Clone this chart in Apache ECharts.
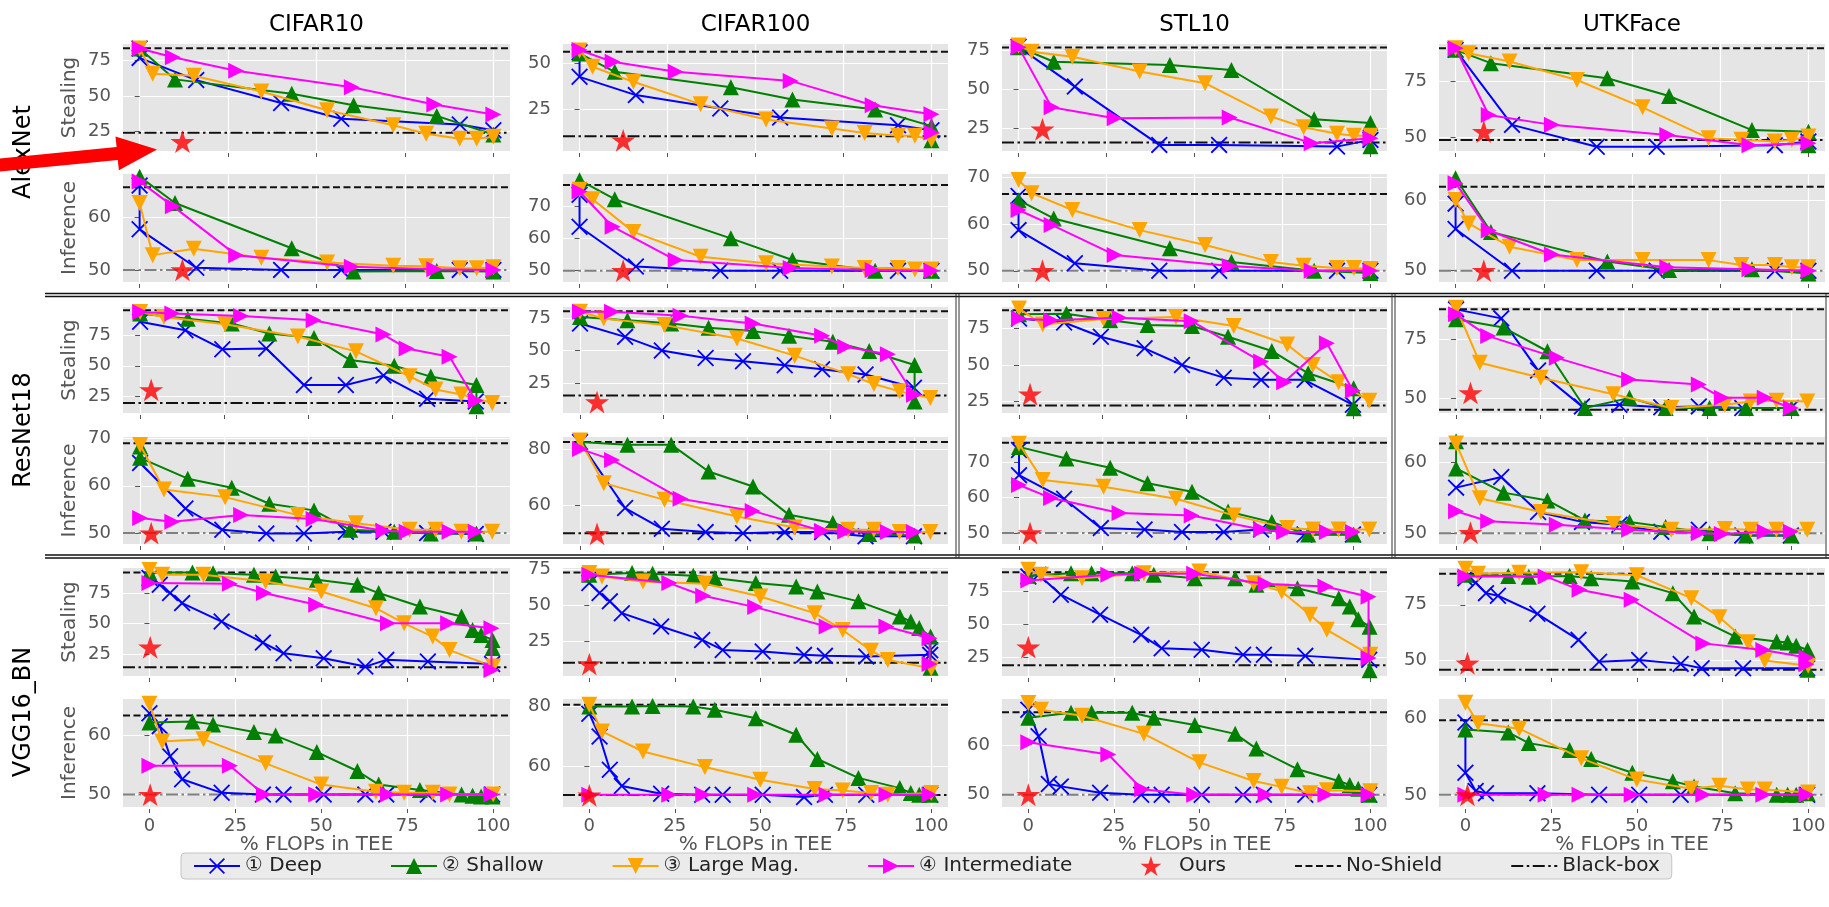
<!DOCTYPE html>
<html><head><meta charset="utf-8">
<script src="https://cdn.jsdelivr.net/npm/echarts@6/dist/echarts.min.js"></script>
<style>html,body{margin:0;padding:0;background:#fff}#chart{width:1829px;height:907px}</style>
</head><body><div id="chart"></div>
<script>
// ---------------- DATA ----------------
const datasetTitles = ['CIFAR10', 'CIFAR100', 'STL10', 'UTKFace'];
const modelLabels = ['AlexNet', 'ResNet18', 'VGG16_BN'];
const taskLabels = ['Stealing', 'Inference'];
const seriesNames = ['① Deep', '② Shallow', '③ Large Mag.', '④ Intermediate'];
const xTickValues = [0, 25, 50, 75, 100];
const xLimits = [[-4.7, 104.7], [-5.1, 110.2], [-7.7, 104.9]];

// AlexNet - Stealing
const alexSteal_CIFAR10_deep = [[0,83],[0,76.5],[16,61],[40,45],[57,34],[90.5,30],[100,26]];
const alexSteal_CIFAR10_shallow = [[0,83],[10,61.5],[43,51.5],[60.5,43.5],[84,36],[100,23]];
const alexSteal_CIFAR10_large = [[0,83],[3.7,65.5],[15.3,64],[34.4,53],[53,40],[71.7,29.5],[81,23.5],[90.5,20],[95.3,20],[100,21.5]];
const alexSteal_CIFAR10_inter = [[0,83],[9.4,77],[27.3,67.5],[60,56],[83.3,44],[100,37]];
const alexSteal_CIFAR100_deep = [[0,56],[0,42.7],[16,32.8],[40,25.5],[57,20.6],[90.5,16.5],[100,13.8]];
const alexSteal_CIFAR100_shallow = [[0,55.4],[10,45.4],[43,37],[60.5,30.4],[84,25],[100,16],[100,8.3]];
const alexSteal_CIFAR100_large = [[0,57],[3.7,48.2],[15.3,40],[34.4,27.9],[53,19.6],[71.7,14.7],[81,12.3],[90.5,10.8],[95.3,10.8],[100,8.5]];
const alexSteal_CIFAR100_inter = [[0,57.2],[9.4,50.9],[27.3,45.4],[60,40.5],[83.3,27.3],[100,22.4],[100,12.5]];
const alexSteal_STL10_deep = [[0,77],[16,51.6],[40,14.4],[57,14.4],[90.5,13.3],[100,17.6]];
const alexSteal_STL10_shallow = [[0,76.8],[10,67.5],[43,65.4],[60.5,62.2],[84,30.8],[100,28.3],[100,13.5]];
const alexSteal_STL10_large = [[0,77.8],[3.7,73.9],[15.3,70.7],[34.4,61.2],[53,53.8],[71.7,32.5],[81,25.7],[90.5,21.5],[95.3,20.2],[100,20.2]];
const alexSteal_STL10_inter = [[0,76.8],[9.4,38.4],[27.3,31.4],[60,31.9],[83.3,15.5],[100,18.7]];
const alexSteal_UTKFace_deep = [[0,88.8],[16,55.5],[40,45.8],[57,45.8],[90.5,46.5],[100,48.1]];
const alexSteal_UTKFace_shallow = [[0,88.8],[10,82.9],[43,76.2],[60.5,68.3],[84,53.2],[100,52.5],[100,46.5]];
const alexSteal_UTKFace_large = [[0,89.5],[3.7,87.3],[15.3,83.6],[34.4,75.4],[53,63.3],[71.7,49.6],[81,48.9],[90.5,48.1],[95.3,48.9],[100,50.3]];
const alexSteal_UTKFace_inter = [[0,89.5],[9.4,59.9],[27.3,55.5],[60,51],[83.3,46.5],[100,47.3]];

// AlexNet - Inference
const alexInfer_CIFAR10_deep = [[0,66],[0,57.7],[16,50.4],[40,50],[57,50],[90.5,50],[100,50]];
const alexInfer_CIFAR10_shallow = [[0,67.7],[10,62.7],[43,54.1],[60.5,49.7],[84,49.8],[100,49.7]];
const alexInfer_CIFAR10_large = [[0,62.7],[3.7,52.8],[15.3,54],[34.4,52.3],[53,51.4],[71.7,50.8],[81,50.7],[90.5,50.3],[95.3,50.3],[100,50.5]];
const alexInfer_CIFAR10_inter = [[0,66.8],[9.4,62.1],[27.3,52.8],[60,50.6],[83.3,50.1],[100,50]];
const alexInfer_CIFAR100_deep = [[0,73.5],[0,63.6],[16,51.3],[40,50],[57,50],[90.5,50],[100,50]];
const alexInfer_CIFAR100_shallow = [[0,78],[10,72.1],[43,60],[60.5,53.3],[84,50],[100,50]];
const alexInfer_CIFAR100_large = [[0,75],[3.7,72.1],[15.3,62],[34.4,54.3],[53,52.3],[71.7,51.3],[81,50.8],[90.5,50.8],[95.3,50.4],[100,50.4]];
const alexInfer_CIFAR100_inter = [[0,74.5],[9.4,63.6],[27.3,53.3],[60,50.8],[83.3,50.2],[100,50]];
const alexInfer_STL10_deep = [[0,66],[0,58.7],[16,51.6],[40,50],[57,50],[90.5,50],[100,50]];
const alexInfer_STL10_shallow = [[0,65.1],[10,61.2],[43,54.8],[60.5,51.9],[84,50],[100,49.5]];
const alexInfer_STL10_large = [[0,69.4],[3.7,66.6],[15.3,63],[34.4,58.7],[53,55.5],[71.7,51.9],[81,51.1],[90.5,50.6],[95.3,50.6],[100,50.4]];
const alexInfer_STL10_inter = [[0,63],[9.4,59.8],[27.3,53.4],[60,51],[83.3,50],[100,50]];
const alexInfer_UTKFace_deep = [[0,59.5],[0,55.9],[16,50],[40,50],[57,50],[90.5,50],[100,50]];
const alexInfer_UTKFace_shallow = [[0,63.1],[10,55.5],[43,51.3],[60.5,50.1],[84,50.2],[100,49.6]];
const alexInfer_UTKFace_large = [[0,60],[3.7,56.7],[15.3,53.4],[34.4,51.5],[53,51.5],[71.7,51.5],[81,50.8],[90.5,50.8],[95.3,50.5],[100,50.5]];
const alexInfer_UTKFace_inter = [[0,62.4],[9.4,55.7],[27.3,52.3],[60,50.5],[83.3,50.2],[100,50]];

// ResNet18 - Stealing
const resSteal_CIFAR10_deep = [[0,86],[13.5,79],[24.5,63.6],[37.6,64.2],[48.8,34.4],[61.3,34.4],[72.5,42],[85.5,23.1],[100,20.9]];
const resSteal_CIFAR10_shallow = [[0,92.6],[14.2,88.5],[27.3,84.5],[38.5,76.4],[51.8,72.8],[62.6,54.7],[75.7,50.1],[86.6,41.2],[100.2,34.4],[100.2,17]];
const resSteal_CIFAR10_large = [[0,93.9],[7.1,89.9],[25.3,84],[47,74],[64.3,61.8],[80.3,41.5],[88,30.7],[95.7,26.6],[104.9,19.6]];
const resSteal_CIFAR10_inter = [[0,93.9],[9.6,92.6],[30.1,90.7],[51.7,87.2],[72.5,75.5],[79.4,64.2],[92.2,57.4],[100,21.5]];
const resSteal_CIFAR100_deep = [[0,70.7],[13.5,60.5],[24.5,50.1],[37.6,44.3],[48.8,41.8],[61.3,38.7],[72.5,35.7],[85.5,31.6],[100,21.4]];
const resSteal_CIFAR100_shallow = [[0,75.8],[14.2,73.2],[27.3,70.7],[38.5,67.4],[51.8,64.9],[62.6,61.3],[75.7,56.8],[86.6,49.7],[100.2,38.9],[100.2,11]];
const resSteal_CIFAR100_large = [[0,79.7],[7.1,74.6],[25.3,69.5],[47,59.3],[64.3,46.1],[80.3,31.9],[88,24.3],[95.7,18.7],[104.9,13.6]];
const resSteal_CIFAR100_inter = [[0,79.7],[9.6,79.7],[30.1,76.6],[51.7,70.7],[72.5,61.3],[79.4,52.9],[92.2,47.1],[100,16.1]];
const resSteal_STL10_deep = [[0,81.8],[13.5,79.1],[24.5,69.3],[37.6,61.4],[48.8,50],[61.3,41.3],[72.5,39.8],[85.5,39.8],[100,22.7]];
const resSteal_STL10_shallow = [[0,84.7],[14.2,85.1],[27.3,80.6],[38.5,77.4],[51.8,76.7],[62.6,69.3],[75.7,59.6],[86.6,44.3],[100.2,34.1],[100.2,20.4]];
const resSteal_STL10_large = [[0,88.6],[7.1,77.7],[25.3,81.4],[47,82.9],[64.3,76.7],[80.3,64],[88,50],[95.7,38.2],[104.9,25.5]];
const resSteal_STL10_inter = [[0,81.8],[9.6,80.7],[30.1,82.3],[51.7,80],[72.5,52.3],[79.4,38.2],[92.2,64.8],[100,32.3]];
const resSteal_UTKFace_deep = [[0,87.7],[13.5,83.9],[24.5,61.9],[37.6,46.7],[48.8,47.4],[61.3,46.3],[72.5,46.7],[85.5,46],[100,46]];
const resSteal_UTKFace_shallow = [[0,83.5],[14.2,80],[27.3,70],[38.5,46],[51.8,50.3],[62.6,46],[75.7,46],[86.6,46],[100.2,46]];
const resSteal_UTKFace_large = [[0,88.4],[7.1,65.1],[25.3,58.8],[47,51.8],[64.3,46],[80.3,47.4],[88,48.8],[95.7,49.1],[104.9,48.8]];
const resSteal_UTKFace_inter = [[0,85.6],[9.6,76.4],[30.1,67.2],[51.7,58.1],[72.5,55.9],[79.4,50.3],[92.2,50.3],[100,46]];

// ResNet18 - Inference
const resInfer_CIFAR10_deep = [[0,64.8],[13.5,55.2],[24.5,50.7],[37.6,49.9],[48.8,49.9],[61.3,50.3],[72.5,50.3],[85.5,50],[100,49.8]];
const resInfer_CIFAR10_shallow = [[0,68.3],[0,65.9],[14.2,61.5],[27.3,59.6],[38.5,56.2],[51.8,54.8],[62.6,50.7],[75.7,50.3],[86.6,49.9],[100.2,49.9]];
const resInfer_CIFAR10_large = [[0,68.6],[7.1,59.2],[25.3,57.6],[47,53.8],[64.3,52.1],[80.3,50.7],[88,50.7],[95.7,50.3],[104.9,50.3]];
const resInfer_CIFAR10_inter = [[0,53.2],[9.6,52.4],[30.1,53.8],[51.7,53],[72.5,50.5],[79.4,50.3],[92.2,50.3],[100,50.3]];
const resInfer_CIFAR100_deep = [[0,82.4],[13.5,59.1],[24.5,51.8],[37.6,50.6],[48.8,50.2],[61.3,50.6],[72.5,50.6],[85.5,49.1],[100,49.1]];
const resInfer_CIFAR100_shallow = [[0,82.4],[14.2,81.5],[27.3,81.5],[38.5,72],[51.8,66.7],[62.6,56.7],[75.7,53.8],[86.6,49.9],[100.2,49.4]];
const resInfer_CIFAR100_large = [[0,83],[7.1,67.9],[25.3,62],[47,56.1],[64.3,52.2],[80.3,51.4],[88,51.4],[95.7,50.6],[104.9,50.6]];
const resInfer_CIFAR100_inter = [[0,80],[9.6,76.1],[30.1,62.4],[51.7,58.1],[72.5,51],[79.4,50.8],[92.2,50.6],[100,50.6]];
const resInfer_STL10_deep = [[0,73.5],[0,66.4],[13.5,59.7],[24.5,51.4],[37.6,51],[48.8,50.3],[61.3,50.3],[72.5,51],[85.5,49.6],[100,49.6]];
const resInfer_STL10_shallow = [[0,74.4],[14.2,71.1],[27.3,68.5],[38.5,64.1],[51.8,61.7],[62.6,56.1],[75.7,53.1],[86.6,49.6],[100.2,49.6]];
const resInfer_STL10_large = [[0,75.3],[7.1,65],[25.3,63.1],[47,59.7],[64.3,55],[80.3,51.4],[88,51],[95.7,51],[104.9,51]];
const resInfer_STL10_inter = [[0,63.6],[9.6,59.9],[30.1,55.7],[51.7,55],[72.5,51],[79.4,50.3],[92.2,50.3],[100,50.3]];
const resInfer_UTKFace_deep = [[0,56.4],[13.5,57.9],[24.5,53],[37.6,51.6],[48.8,51.2],[61.3,50.2],[72.5,50.5],[85.5,49.7],[100,49.7]];
const resInfer_UTKFace_shallow = [[0,62.9],[0,59.1],[14.2,55.7],[27.3,54.6],[38.5,51.8],[51.8,51.6],[62.6,50.9],[75.7,50],[86.6,49.7],[100.2,49.7]];
const resInfer_UTKFace_large = [[0,62.6],[7.1,54.9],[25.3,53],[47,51.3],[64.3,50.5],[80.3,50.6],[88,50.5],[95.7,50.5],[104.9,50.5]];
const resInfer_UTKFace_inter = [[0,53.1],[9.6,51.7],[30.1,51.2],[51.7,50.5],[72.5,50],[79.4,49.9],[92.2,50.2],[100,50.2]];

// VGG16_BN - Stealing
const vggSteal_CIFAR10_deep = [[0,87.3],[3,81.8],[6,75],[9.5,66.8],[21,51.7],[33,34.5],[39,25.8],[50.7,21.7],[62.8,14.9],[68.9,20.4],[81,19],[99.7,17]];
const vggSteal_CIFAR10_shallow = [[0,91.9],[12.5,91.9],[18.5,91.3],[30.4,90],[36.7,88.6],[48.7,85.9],[60.5,81.8],[66.7,75],[78.7,64],[90.8,55.8],[94,44.9],[96.5,40.8],[99.8,36.7],[99.8,30]];
const vggSteal_CIFAR10_large = [[0,93.8],[3.7,90],[15.7,90],[33.8,84.5],[50,76.3],[65.9,62.6],[74.1,50.3],[82.4,39.4],[87.3,28.4],[100,14.9]];
const vggSteal_CIFAR10_inter = [[0,83.2],[23.4,82.7],[33.3,75],[48.5,65.4],[69.4,50.3],[86.9,50.3],[99.5,46.2],[99.5,12.1]];
const vggSteal_CIFAR100_deep = [[0,65.7],[3,58.8],[6,53],[9.5,44.8],[21,35.5],[33,26.2],[39,19.2],[50.7,18.1],[62.8,15.8],[68.9,15.1],[81,14.6],[99.7,15.8],[99.7,19]];
const vggSteal_CIFAR100_shallow = [[0,71.5],[12.5,72.7],[18.5,72.2],[30.4,70.8],[36.7,69.2],[48.7,65.7],[60.5,63.4],[66.7,59.9],[78.7,53],[90.8,42.5],[94,39],[96.5,34.4],[99.8,28.6],[99.8,6.9]];
const vggSteal_CIFAR100_large = [[0,72.7],[3.7,70.3],[15.7,66.8],[33.8,65.2],[50,56.4],[65.9,44.8],[74.1,33.1],[82.4,18.7],[87.3,12.2],[100,6.4]];
const vggSteal_CIFAR100_inter = [[0,71.5],[23.4,65.7],[33.3,56.9],[48.5,49],[69.4,35.5],[86.9,35.5],[99.5,27.4],[99.5,9.4]];
const vggSteal_STL10_deep = [[0,86.4],[3,87.6],[9.5,72.5],[21,57.3],[33,42],[39,31.8],[50.7,30.6],[62.8,26.8],[68.9,26.8],[81,26],[99.7,23]];
const vggSteal_STL10_shallow = [[0,87],[12.5,88.9],[18.5,88.9],[30.4,88.9],[36.7,87.6],[48.7,85.1],[60.5,85.1],[66.7,80],[78.7,77.4],[90.8,69.8],[94,63.5],[96.5,53.8],[99.8,48.2],[99.8,15]];
const vggSteal_STL10_large = [[0,91.5],[3.7,87.6],[15.7,85.1],[33.8,88.9],[50,90.2],[65.9,81.3],[74.1,75],[82.4,57.3],[87.3,45.8],[100,26.8]];
const vggSteal_STL10_inter = [[0,83.3],[23.4,87.6],[33.3,88.4],[48.5,88.4],[69.4,80.7],[86.9,78.7],[99.5,71],[99.5,24.3]];
const vggSteal_UTKFace_deep = [[0,87],[3,85],[6,80.3],[9.5,79.1],[21,70.9],[33,59.1],[39,49.2],[50.7,50],[62.8,48.2],[68.9,46.2],[81,46.2],[99.7,46.2]];
const vggSteal_UTKFace_shallow = [[0,88.6],[12.5,88.1],[18.5,87.7],[30.4,88.1],[36.7,87.1],[48.7,85.6],[60.5,80.3],[66.7,69.7],[78.7,60.6],[90.8,58.3],[94,57.9],[96.5,56.4],[99.8,54.5],[99.8,45.5]];
const vggSteal_UTKFace_large = [[0,91.4],[3.7,89.1],[15.7,89.5],[33.8,89.8],[50,88.4],[65.9,78],[74.1,69.4],[82.4,58],[87.3,49.7],[100,47.4]];
const vggSteal_UTKFace_inter = [[0,87.9],[23.4,87.9],[33.3,81.8],[48.5,77.3],[69.4,57.5],[86.9,54.5],[99.5,51.1],[99.5,48]];

// VGG16_BN - Inference
const vggInfer_CIFAR10_deep = [[0,63.8],[3,61.6],[6,56.5],[9.5,52.6],[21,50.3],[33,50],[39,50],[50.7,50],[62.8,50],[68.9,50],[81,50],[99.7,50]];
const vggInfer_CIFAR10_shallow = [[0,62.2],[12.5,62.4],[18.5,61.9],[30.4,60.6],[36.7,60],[48.7,57.2],[60.5,54],[66.7,51.7],[78.7,50.8],[90.8,50],[94,49.8],[96.5,49.7],[99.8,49.7]];
const vggInfer_CIFAR10_large = [[0,65.4],[3.7,59],[15.7,59.4],[33.8,55.3],[50,51.7],[65.9,50.5],[74.1,50.3],[82.4,50.3],[87.3,50],[100,50]];
const vggInfer_CIFAR10_inter = [[0,54.9],[23.4,54.9],[33.3,50],[48.5,50],[69.4,50],[86.9,50],[99.5,50]];
const vggInfer_CIFAR100_deep = [[0,77.6],[3,70],[6,58.9],[9.5,53.5],[21,50.9],[33,50.6],[39,50.6],[50.7,50.6],[62.8,49.8],[68.9,50.6],[81,50.6],[99.7,50.6]];
const vggInfer_CIFAR100_shallow = [[0,80],[12.5,80],[18.5,80.2],[30.4,80],[36.7,78.9],[48.7,76.1],[60.5,70.6],[66.7,62.5],[78.7,56.2],[90.8,52.8],[94,51.2],[96.5,50.6],[99.8,50.6]];
const vggInfer_CIFAR100_large = [[0,80.6],[3.7,71.7],[15.7,65],[33.8,59.8],[50,55.6],[65.9,52.5],[74.1,52],[82.4,51.2],[87.3,50.6],[100,51.2]];
const vggInfer_CIFAR100_inter = [[0,50.6],[23.4,50.6],[33.3,50.6],[48.5,50.6],[69.4,50.6],[86.9,50.6],[99.5,50.6]];
const vggInfer_STL10_deep = [[0,67.3],[3,61.9],[6,52.2],[9.5,51.7],[21,50.4],[33,50],[39,50],[50.7,50],[62.8,50],[68.9,50],[81,50],[99.7,50]];
const vggInfer_STL10_shallow = [[0,65.7],[12.5,66.7],[18.5,66.7],[30.4,66.7],[36.7,65.7],[48.7,64.2],[60.5,62.4],[66.7,59.4],[78.7,55.2],[90.8,52.8],[94,52],[96.5,51.2],[99.8,50]];
const vggInfer_STL10_large = [[0,68.7],[3.7,67.3],[15.7,66.1],[33.8,62.4],[50,56.6],[65.9,52.8],[74.1,51.6],[82.4,50.3],[87.3,50.9],[100,50.7]];
const vggInfer_STL10_inter = [[0,60.7],[23.4,58.2],[33.3,51.1],[48.5,50],[69.4,50],[86.9,50],[99.5,50]];
const vggInfer_UTKFace_deep = [[0,59.5],[0,52.9],[3,50.5],[6,50.2],[21,50.2],[39,50],[50.7,50],[62.8,50],[99.7,50]];
const vggInfer_UTKFace_shallow = [[0,58.6],[12.5,58.2],[18.5,56.8],[30.4,55.9],[36.7,54.7],[48.7,52.9],[60.5,51.8],[66.7,51.1],[78.7,50.2],[90.8,50],[94,50],[96.5,50],[99.8,50.2]];
const vggInfer_UTKFace_large = [[0,62.1],[3.7,59.4],[15.7,58.7],[33.8,54.8],[50,52],[65.9,50.8],[74.1,51.2],[82.4,50.7],[87.3,50.7],[100,50.3]];
const vggInfer_UTKFace_inter = [[0,50],[23.4,50],[33.3,50],[48.5,50],[69.4,50],[86.9,50],[99.5,50]];

// "Ours" star per panel (row-major: 6 rows x 4 datasets)
const oursPoints = [
  [12.1,18],[12.4,8.3],[6.8,24.4],[8,52.5],
  [12.1,50],[12.4,50],[6.8,50],[8,50],
  [3.3,30.4],[5.1,10.5],[3.3,30],[4.3,52.4],
  [3.3,50],[5.1,50],[3.3,50],[4.3,50.1],
  [0.2,30.7],[0,9.4],[0,32.6],[0.6,48.5],
  [0.2,50],[0,50.4],[0,50],[0.6,50]
];
const noShieldLevels = [83.2,56.3,76.5,89.5, 65.7,76.5,66.4,61.9, 95.3,80.1,87.5,87.7, 69,82.4,75.6,62.6, 91.9,73.1,89.5,89.1, 63.4,80.6,66.8,59.8];
const blackBoxLevels = [24.3,10.5,15.9,48.8, 50,50,50,50, 19.6,15.5,22.3,45.3, 50,50.2,50,50, 14.3,10.3,18.9,45.5, 50,50.5,50,50];
const yLimits = [
  [11.5,86.2],[2.5,60.5],[10.5,78.8],[43.9,91.4],
  [47.7,68.2],[46.5,79.9],[47.6,70.7],[48.4,63.7],
  [11.5,98],[2.1,83.4],[17.1,89.7],[43.9,88.7],
  [47.7,70.3],[46.4,84.2],[46.9,77.2],[48.5,63.5],
  [7.2,95.5],[1.1,76.2],[10.7,92.8],[42.7,91.7],
  [47.9,66.2],[46.5,82.5],[47.5,69.5],[48.4,62.6]
];
const yTickValues = [
  [25,50,75],[25,50],[25,50,75],[50,75],
  [50,60],[50,60,70],[50,60,70],[50,60],
  [25,50,75],[25,50,75],[25,50,75],[50,75],
  [50,60,70],[60,80],[50,60,70],[50,60],
  [25,50,75],[25,50,75],[25,50,75],[50,75],
  [50,60],[60,80],[50,60],[50,60]
];

const panelSeries = [
  [alexSteal_CIFAR10_deep, alexSteal_CIFAR10_shallow, alexSteal_CIFAR10_large, alexSteal_CIFAR10_inter],
  [alexSteal_CIFAR100_deep, alexSteal_CIFAR100_shallow, alexSteal_CIFAR100_large, alexSteal_CIFAR100_inter],
  [alexSteal_STL10_deep, alexSteal_STL10_shallow, alexSteal_STL10_large, alexSteal_STL10_inter],
  [alexSteal_UTKFace_deep, alexSteal_UTKFace_shallow, alexSteal_UTKFace_large, alexSteal_UTKFace_inter],
  [alexInfer_CIFAR10_deep, alexInfer_CIFAR10_shallow, alexInfer_CIFAR10_large, alexInfer_CIFAR10_inter],
  [alexInfer_CIFAR100_deep, alexInfer_CIFAR100_shallow, alexInfer_CIFAR100_large, alexInfer_CIFAR100_inter],
  [alexInfer_STL10_deep, alexInfer_STL10_shallow, alexInfer_STL10_large, alexInfer_STL10_inter],
  [alexInfer_UTKFace_deep, alexInfer_UTKFace_shallow, alexInfer_UTKFace_large, alexInfer_UTKFace_inter],
  [resSteal_CIFAR10_deep, resSteal_CIFAR10_shallow, resSteal_CIFAR10_large, resSteal_CIFAR10_inter],
  [resSteal_CIFAR100_deep, resSteal_CIFAR100_shallow, resSteal_CIFAR100_large, resSteal_CIFAR100_inter],
  [resSteal_STL10_deep, resSteal_STL10_shallow, resSteal_STL10_large, resSteal_STL10_inter],
  [resSteal_UTKFace_deep, resSteal_UTKFace_shallow, resSteal_UTKFace_large, resSteal_UTKFace_inter],
  [resInfer_CIFAR10_deep, resInfer_CIFAR10_shallow, resInfer_CIFAR10_large, resInfer_CIFAR10_inter],
  [resInfer_CIFAR100_deep, resInfer_CIFAR100_shallow, resInfer_CIFAR100_large, resInfer_CIFAR100_inter],
  [resInfer_STL10_deep, resInfer_STL10_shallow, resInfer_STL10_large, resInfer_STL10_inter],
  [resInfer_UTKFace_deep, resInfer_UTKFace_shallow, resInfer_UTKFace_large, resInfer_UTKFace_inter],
  [vggSteal_CIFAR10_deep, vggSteal_CIFAR10_shallow, vggSteal_CIFAR10_large, vggSteal_CIFAR10_inter],
  [vggSteal_CIFAR100_deep, vggSteal_CIFAR100_shallow, vggSteal_CIFAR100_large, vggSteal_CIFAR100_inter],
  [vggSteal_STL10_deep, vggSteal_STL10_shallow, vggSteal_STL10_large, vggSteal_STL10_inter],
  [vggSteal_UTKFace_deep, vggSteal_UTKFace_shallow, vggSteal_UTKFace_large, vggSteal_UTKFace_inter],
  [vggInfer_CIFAR10_deep, vggInfer_CIFAR10_shallow, vggInfer_CIFAR10_large, vggInfer_CIFAR10_inter],
  [vggInfer_CIFAR100_deep, vggInfer_CIFAR100_shallow, vggInfer_CIFAR100_large, vggInfer_CIFAR100_inter],
  [vggInfer_STL10_deep, vggInfer_STL10_shallow, vggInfer_STL10_large, vggInfer_STL10_inter],
  [vggInfer_UTKFace_deep, vggInfer_UTKFace_shallow, vggInfer_UTKFace_large, vggInfer_UTKFace_inter]
];

// ---------------- LAYOUT & STYLE ----------------
const FONT = 'DejaVu Sans';
const colLeft = [123, 563, 1002, 1439], colWidth = [387, 385, 385, 386];
const rowTop = [44, 174, 307, 437, 568, 699], rowHeight = [107, 108, 106, 107, 108, 108];
const X_PATH = 'path://M0,1.5 L1.5,0 L10,8.5 L18.5,0 L20,1.5 L11.5,10 L20,18.5 L18.5,20 L10,11.5 L1.5,20 L0,18.5 L8.5,10 Z';
const UP_PATH = 'path://M10,0 L20,20 L0,20 Z';
const DOWN_PATH = 'path://M0,0 L20,0 L10,20 Z';
const RIGHT_PATH = 'path://M0,0 L20,10 L0,20 Z';
const STAR_PATH = 'path://M10,0 L12.245,6.91 L19.51,6.91 L13.63,11.18 L15.88,18.09 L10,13.82 L4.12,18.09 L6.37,11.18 L0.49,6.91 L7.755,6.91 Z';
const methodStyles = [
  { color: '#0000FF', symbol: X_PATH, size: 17 },
  { color: '#008000', symbol: UP_PATH, size: 16 },
  { color: '#FFA500', symbol: DOWN_PATH, size: 16 },
  { color: '#FF00FF', symbol: RIGHT_PATH, size: 16 }
];
const blackBoxBlackPanels = [13, 21];

const grids = [], xAxes = [], yAxes = [], series = [];
for (let r = 0; r < 6; r++) {
  for (let c = 0; c < 4; c++) {
    const i = r * 4 + c;
    const m = Math.floor(r / 2);
    const xl = xLimits[m];
    grids.push({ left: colLeft[c], top: rowTop[r], width: colWidth[c], height: rowHeight[r],
      show: true, backgroundColor: '#E5E5E5', borderWidth: 0, containLabel: false, outerBoundsMode: 'none' });
    xAxes.push({ gridIndex: i, type: 'value', min: xl[0], max: xl[1], offset: 2,
      axisLine: { show: false },
      axisTick: { show: true, length: 4, customValues: xTickValues, lineStyle: { color: '#555', width: 1 } },
      axisLabel: { show: r === 5, customValues: xTickValues, fontSize: 18, color: '#555', margin: 8, fontFamily: FONT },
      splitLine: { show: true, lineStyle: { color: '#FFFFFF', width: 1.2 } } });
    yAxes.push({ gridIndex: i, type: 'value', min: yLimits[i][0], max: yLimits[i][1], offset: 5,
      axisLine: { show: false },
      axisTick: { show: true, length: 5, customValues: yTickValues[i], lineStyle: { color: '#555', width: 1 } },
      axisLabel: { show: true, customValues: yTickValues[i], fontSize: 18, color: '#555', margin: 7, fontFamily: FONT },
      splitLine: { show: true, lineStyle: { color: '#FFFFFF', width: 1.2 } } });
    const isInfer = (r % 2) === 1;
    const bbColor = (!isInfer || blackBoxBlackPanels.includes(i)) ? '#111111' : '#808080';
    series.push({ type: 'line', name: 'No-Shield', xAxisIndex: i, yAxisIndex: i, silent: true, z: 1,
      data: [[xl[0], noShieldLevels[i]], [xl[1], noShieldLevels[i]]], symbol: 'none',
      lineStyle: { color: '#111111', width: 2, type: [7, 3.5] }, itemStyle: { color: '#111111' } });
    series.push({ type: 'line', name: 'Black-box', xAxisIndex: i, yAxisIndex: i, silent: true, z: 1,
      data: [[xl[0], blackBoxLevels[i]], [xl[1], blackBoxLevels[i]]], symbol: 'none',
      lineStyle: { color: bbColor, width: 2, type: [12, 3.5, 2.5, 3.5] }, itemStyle: { color: bbColor } });
    panelSeries[i].forEach((d, k) => {
      const st = methodStyles[k];
      series.push({ type: 'line', name: seriesNames[k], xAxisIndex: i, yAxisIndex: i, silent: true, z: 2 + k * 0.1,
        data: d, symbol: st.symbol, symbolSize: st.size, showAllSymbol: true,
        lineStyle: { color: st.color, width: 2 }, itemStyle: { color: st.color, borderWidth: 0 } });
    });
    series.push({ type: 'scatter', name: 'Ours', xAxisIndex: i, yAxisIndex: i, silent: true, z: 4,
      data: [oursPoints[i]], symbol: STAR_PATH, symbolSize: 24, symbolKeepAspect: true,
      itemStyle: { color: '#FF0000' } });
  }
}

const graphics = [];
const colCenter = c => colLeft[c] + colWidth[c] / 2;
datasetTitles.forEach((t, c) => graphics.push({ type: 'text', x: colCenter(c), y: 25,
  style: { text: t, font: '23px "DejaVu Sans"', fill: '#000', textAlign: 'center', textVerticalAlign: 'middle' } }));
const modelLabelY = [152, 430, 712];
modelLabels.forEach((t, m) => graphics.push({ type: 'text', x: 24, y: modelLabelY[m], rotation: Math.PI / 2,
  style: { text: t, font: '24px "DejaVu Sans"', fill: '#000', textAlign: 'center', textVerticalAlign: 'middle' } }));
for (let r = 0; r < 6; r++) {
  graphics.push({ type: 'text', x: 70, y: rowTop[r] + rowHeight[r] / 2, rotation: Math.PI / 2,
    style: { text: taskLabels[r % 2], font: '20px "DejaVu Sans"', fill: '#555', textAlign: 'center', textVerticalAlign: 'middle' } });
}
for (let c = 0; c < 4; c++) {
  graphics.push({ type: 'text', x: colCenter(c), y: 845,
    style: { text: '% FLOPs in TEE', font: '20px "DejaVu Sans"', fill: '#555', textAlign: 'center', textVerticalAlign: 'middle' } });
}
// separators between model groups
[[293.5, 296.5], [555, 558]].forEach(pair => pair.forEach(y => graphics.push({ type: 'line',
  shape: { x1: 45, y1: y, x2: 1829, y2: y }, style: { stroke: '#111', lineWidth: 1.3 } })));
[956, 959, 1392, 1395, 1826].forEach(x => graphics.push({ type: 'line',
  shape: { x1: x, y1: 294, x2: x, y2: 558 }, style: { stroke: '#333', lineWidth: 1 } }));
// red annotation arrow
graphics.push({ type: 'polygon', z: 100,
  shape: { points: [[-5.6,159],[116.6,146.9],[115.5,136.5],[157,149.5],[118.9,170.3],[117.8,159.9],[-4.4,172]] },
  style: { fill: '#FF0000' } });

const option = {
  animation: false,
  backgroundColor: '#FFFFFF',
  textStyle: { fontFamily: FONT },
  grid: grids, xAxis: xAxes, yAxis: yAxes, series: series,
  legend: {
    data: ['① Deep', '② Shallow', '③ Large Mag.', '④ Intermediate', 'Ours',
      { name: 'No-Shield', itemStyle: { opacity: 0 } },
      { name: 'Black-box', itemStyle: { opacity: 0 } }],
    selectedMode: false, left: 181, top: 853, itemWidth: 46, itemHeight: 20, itemGap: 68,
    textStyle: { fontSize: 20, color: '#222', fontFamily: FONT },
    backgroundColor: '#EBEBEB', borderColor: '#C4C4C4', borderWidth: 1, borderRadius: 4, padding: [3, 12]
  },
  graphic: graphics
};
const chart = echarts.init(document.getElementById('chart'), null, { renderer: 'canvas' });
chart.setOption(option);
</script></body></html>
